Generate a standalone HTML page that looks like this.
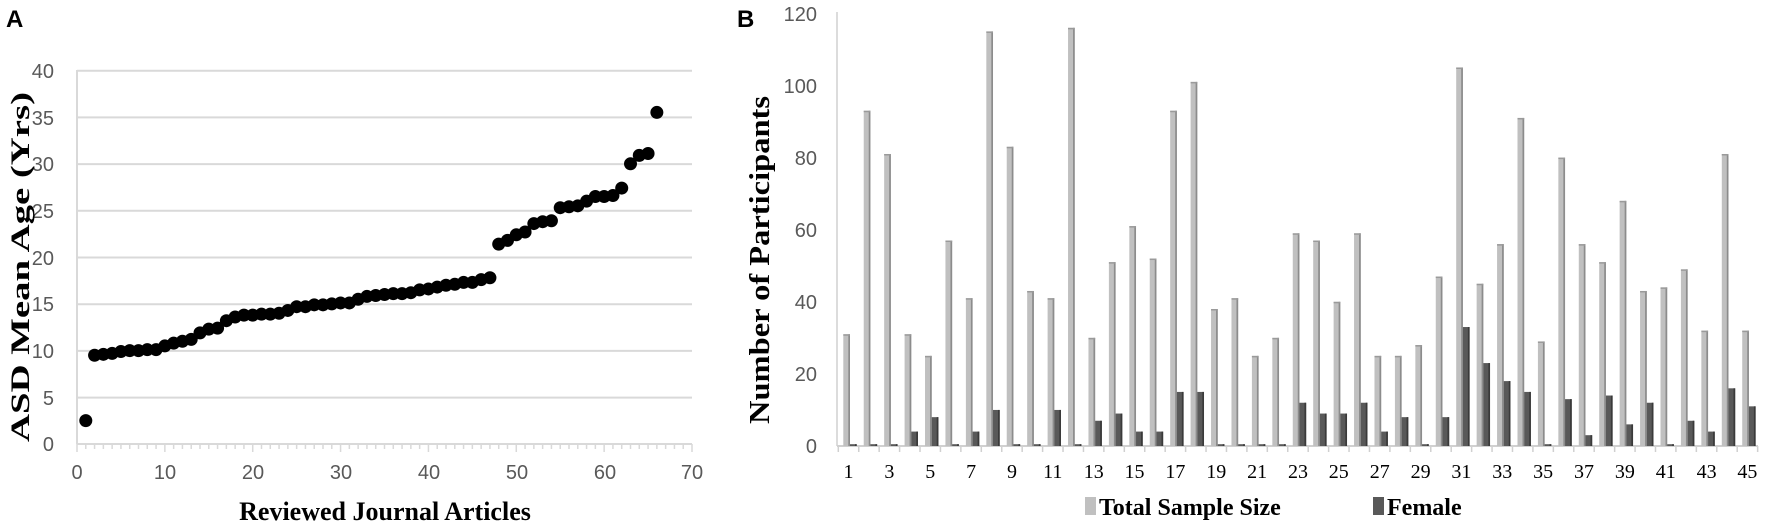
<!DOCTYPE html>
<html><head><meta charset="utf-8"><style>
html,body{margin:0;padding:0;background:#fff;}
svg{display:block;}
.t{font-family:"Liberation Sans",sans-serif;font-size:20px;fill:#595959;}
.s{font-family:"Liberation Serif",serif;font-size:20px;fill:#000;}
.b{font-family:"Liberation Serif",serif;font-weight:bold;fill:#000;}
</style></head><body>
<svg id="c" width="1772" height="529" viewBox="0 0 1772 529" xmlns="http://www.w3.org/2000/svg">
<text x="6" y="27" font-family="Liberation Sans" font-weight="bold" font-size="24">A</text>
<g stroke="#d9d9d9" stroke-width="2">
<line x1="77" y1="70.7" x2="692" y2="70.7"/><line x1="77" y1="117.4" x2="692" y2="117.4"/>
<line x1="77" y1="164.1" x2="692" y2="164.1"/><line x1="77" y1="210.8" x2="692" y2="210.8"/>
<line x1="77" y1="257.5" x2="692" y2="257.5"/><line x1="77" y1="304.2" x2="692" y2="304.2"/>
<line x1="77" y1="350.9" x2="692" y2="350.9"/><line x1="77" y1="397.6" x2="692" y2="397.6"/>
<line x1="77" y1="444" x2="692" y2="444"/><line x1="77" y1="70" x2="77" y2="444"/>
</g>
<g id="ticksA" stroke="#d9d9d9" stroke-width="1.5"></g>
<g class="t" text-anchor="end">
<text x="54" y="78">40</text><text x="54" y="125">35</text><text x="54" y="171">30</text>
<text x="54" y="218">25</text><text x="54" y="265">20</text><text x="54" y="311">15</text>
<text x="54" y="358">10</text><text x="54" y="405">5</text><text x="54" y="451">0</text>
</g>
<g class="t" text-anchor="middle">
<text x="77" y="479">0</text><text x="165" y="479">10</text><text x="253" y="479">20</text>
<text x="341" y="479">30</text><text x="429" y="479">40</text><text x="517" y="479">50</text>
<text x="605" y="479">60</text><text x="692" y="479">70</text>
</g>
<g id="dots" fill="#000"></g>
<text class="b" font-size="26" x="385" y="520" text-anchor="middle">Reviewed Journal Articles</text>
<text class="b" font-size="26" transform="translate(29,267) rotate(-90)" text-anchor="middle" textLength="350" lengthAdjust="spacingAndGlyphs">ASD Mean Age (Yrs)</text>

<text x="737" y="27" font-family="Liberation Sans" font-weight="bold" font-size="24">B</text>
<line x1="837" y1="12" x2="837" y2="446" stroke="#d0d0d0" stroke-width="1.5"/>
<line x1="837" y1="446" x2="1758" y2="446" stroke="#d0d0d0" stroke-width="2"/>
<g id="ticksB" stroke="#d0d0d0" stroke-width="1.5"></g>
<g class="t" text-anchor="end">
<text x="817" y="21">120</text><text x="817" y="93">100</text><text x="817" y="165">80</text>
<text x="817" y="237">60</text><text x="817" y="309">40</text><text x="817" y="381">20</text>
<text x="817" y="453">0</text>
</g>
<g id="bars"></g>
<g class="s" text-anchor="middle">
<text x="848.5" y="478">1</text><text x="889.4" y="478">3</text><text x="930.2" y="478">5</text>
<text x="971.1" y="478">7</text><text x="1012" y="478">9</text><text x="1052.8" y="478">11</text>
<text x="1093.7" y="478">13</text><text x="1134.5" y="478">15</text><text x="1175.4" y="478">17</text>
<text x="1216.3" y="478">19</text><text x="1257.1" y="478">21</text><text x="1298" y="478">23</text>
<text x="1338.8" y="478">25</text><text x="1379.7" y="478">27</text><text x="1420.6" y="478">29</text>
<text x="1461.4" y="478">31</text><text x="1502.3" y="478">33</text><text x="1543.1" y="478">35</text>
<text x="1584" y="478">37</text><text x="1624.9" y="478">39</text><text x="1665.7" y="478">41</text>
<text x="1706.6" y="478">43</text><text x="1747.4" y="478">45</text>
</g>
<rect x="1085" y="497" width="11" height="18" fill="#c0c0c0"/>
<text class="b" font-size="24" x="1099" y="515">Total Sample Size</text>
<rect x="1373" y="497" width="11" height="18" fill="#595959"/>
<text class="b" font-size="24" x="1387" y="515">Female</text>
<text class="b" font-size="28" transform="translate(769,260) rotate(-90)" text-anchor="middle" textLength="328" lengthAdjust="spacingAndGlyphs">Number of Participants</text>
</svg>
<script>
var NS="http://www.w3.org/2000/svg";
function el(p,t,a){var e=document.createElementNS(NS,t);for(var k in a)e.setAttribute(k,a[k]);p.appendChild(e);return e;}
var ta=document.getElementById("ticksA");
for(var i=0;i<=70;i++){var x=77+i*615/70;el(ta,"line",{x1:x,y1:444,x2:x,y2:i%10==0?452:449});}
var ages=[2.5,9.5,9.6,9.7,9.9,10,10,10.1,10.1,10.5,10.8,11,11.2,11.9,12.3,12.4,13.2,13.6,13.8,13.8,13.9,13.9,14,14.3,14.7,14.7,14.9,14.9,15,15.1,15.1,15.5,15.8,15.9,16,16.1,16.1,16.2,16.5,16.6,16.8,17,17.1,17.3,17.3,17.6,17.8,21.4,21.8,22.4,22.7,23.6,23.8,23.9,25.3,25.4,25.5,26,26.5,26.5,26.6,27.4,30,30.9,31.1,35.5];
var d=document.getElementById("dots");
ages.forEach(function(v,i){el(d,"circle",{cx:77+(i+1)*615/70,cy:444-v*9.34,r:6.5});});
var tb=document.getElementById("ticksB");
var sp=20.43;
for(var i=0;i<=45;i++){var x=838.3+i*sp;el(tb,"line",{x1:x,y1:446,x2:x,y2:452});}
var tot=[31,93,81,31,25,57,41,115,83,43,41,116,30,51,61,52,93,101,38,41,25,30,59,57,40,59,25,25,28,47,105,45,56,91,29,80,56,51,68,43,44,49,32,81,32];
var fem=[0.5,0.5,0.5,4,8,0.5,4,10,0.5,0.5,10,0.5,7,9,4,4,15,15,0.5,0.5,0.5,0.5,12,9,9,12,4,8,0.5,8,33,23,18,15,0.5,13,3,14,6,12,0.5,7,4,16,11];
var b=document.getElementById("bars");
for(var i=0;i<45;i++){
 var g0=838.3+i*sp;
 var h=tot[i]*3.605, x=g0+5;
 el(b,"rect",{x:x,y:446-h,width:6.7,height:h,fill:"#c0c0c0"});
 el(b,"rect",{x:x+5,y:446-h,width:1.7,height:h,fill:"#8c8c8c"});
 el(b,"rect",{x:x,y:446-h,width:6.7,height:1.5,fill:"#9a9a9a"});
 var hf=fem[i]*3.605, xf=g0+11.7;
 el(b,"rect",{x:xf,y:446-hf,width:6.7,height:hf,fill:"#595959"});
 el(b,"rect",{x:xf+5,y:446-hf,width:1.7,height:hf,fill:"#3a3a3a"});
}
</script>
</body></html>
